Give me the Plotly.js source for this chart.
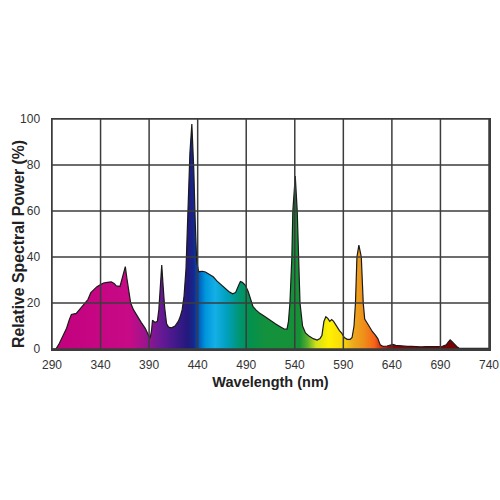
<!DOCTYPE html>
<html>
<head>
<meta charset="utf-8">
<script src="https://cdn.plot.ly/plotly-3.0.1.min.js"></script>
<style>html,body{margin:0;padding:0;background:#fff;}#chart{width:500px;height:500px;}</style>
</head>
<body>
<div id="chart"></div>
<script>
// Wavelength (nm) and relative spectral power (%)
const wavelength = [290,294,297,301,305,308,310,315,318,321,324,327,330,333,336,340,343,347,351,354,356,360,362,364,365.5,367,368.5,371,374,378,382,386,389,391,392.5,393.5,396,398.5,400,401.5,403,404.5,406,408,410,413,416.7,420,422,424,426,428,430,432,434,436,437.5,439,441,445,448,452,456,460,464,468,472,476,479,482,484,486,489,492,494,497,500,504,508,512,516,520,525,529,532,533.5,535,537,538,540.5,542.5,543.7,545.4,548,551,555,559,563,566,568,570,572,574,576,578,580,582,584,586,588.5,591,594,597,599,601,602.5,604,606,608.5,610.5,612,615,617,620,623,625.5,628,631,635,638,641,644,648,652,656,660,665,670,675,680,686,692,696,698,700,702,704,707,709,715,740];
const power = [0,0,2,5.5,9,13,15,15.5,17,18,19.5,21.5,24.5,26,27,28,28.7,29,29.2,28.5,27.5,27.2,30,33.5,35.8,31,26,20,17,14,11.5,9,6.5,4.6,8,12.5,11.5,12,17,27,36.5,27,18,11,9.5,9.2,10,12,14,17,23,35,58,85,97.8,78,55,38,33.6,33.8,33.5,32.5,31.4,29.5,28,26.5,25,24,24.5,27.5,29.3,29,27.8,25,22.7,18.4,17,15.5,14.5,13.2,12.3,11,9.7,8.7,8.6,12,20,40,60,75.2,60,40,20,10,7,5.5,4.5,3.9,4.5,6,12,14,13.3,12,12.8,12,10.5,9.5,8,6.8,5,4.2,4.2,5,10,20,40,45.2,40,20,13,11,9.5,7.5,6,4.5,1.8,1.1,1.3,1.5,2.0,1.6,1.4,1.5,1.1,1.2,1.0,0.9,1.0,0.9,1.0,1.2,1.8,3.0,4.0,3.2,2.2,1.0,0.4,0.3,0.3];

// Spectrum colours by wavelength (nm)
const colorNm = [290,370,385,400,415,430,436,441,448,458,470,482,492,510,545,553,562,575,588,600,612,622,630,640,740];
const colorVals = ['rgb(195,0,125)','rgb(200,10,135)','rgb(160,20,140)','rgb(110,25,150)','rgb(70,25,140)','rgb(35,25,125)','rgb(20,40,140)','rgb(0,90,190)','rgb(0,150,220)','rgb(20,175,230)','rgb(0,160,190)','rgb(0,150,120)','rgb(0,145,80)','rgb(20,145,60)','rgb(20,145,55)','rgb(90,175,45)','rgb(210,225,25)','rgb(255,240,0)','rgb(250,220,10)','rgb(235,170,30)','rgb(240,140,25)','rgb(245,100,25)','rgb(210,40,15)','rgb(140,5,5)','rgb(110,0,0)'];

const xTicks = [290,340,390,440,490,540,590,640,690,740];
const yTicks = [0,20,40,60,80,100];

const xMin = 290, xMax = 740, yMin = 0, yMax = 100;
const colorscale = colorNm.map((nm, i) => [(nm - xMin) / (xMax - xMin), colorVals[i]]);

const gridColor = '#3c3c3c';
const shapes = [];
xTicks.forEach(v => shapes.push({type:'line', xref:'x', yref:'y', x0:v, x1:v, y0:yMin, y1:yMax, layer:'above', line:{color:gridColor, width:1.5}}));
yTicks.forEach(v => shapes.push({type:'line', xref:'x', yref:'y', x0:xMin, x1:xMax, y0:v, y1:v, layer:'above', line:{color:gridColor, width:1.5}}));

const trace = {
  x: wavelength, y: power, type: 'scatter', mode: 'lines',
  line: {color: '#1a1a1a', width: 1.2},
  fill: 'tozeroy',
  fillgradient: {type: 'horizontal', colorscale: colorscale, start: xMin, stop: xMax},
  hoverinfo: 'skip'
};

const fam = 'Liberation Sans, Arial, sans-serif';
const layout = {
  width: 500, height: 500,
  margin: {l: 52, r: 11, t: 119, b: 151},
  paper_bgcolor: '#fff', plot_bgcolor: '#fff',
  showlegend: false,
  shapes: shapes,
  annotations: [{
    text: '<b>Relative Spectral Power (%)</b>', textangle: -90,
    xref: 'paper', yref: 'paper', x: 0, y: 0.5, xanchor: 'center', yanchor: 'middle',
    xshift: -34, yshift: -10, showarrow: false,
    font: {family: fam, size: 15.8, color: '#222'}
  }],
  xaxis: {
    range: [xMin, xMax], tickvals: xTicks, ticktext: xTicks.map(String),
    showgrid: false, zeroline: false, showline: true, mirror: true, linecolor: gridColor, linewidth: 1.5,
    ticks: '', ticklabelstandoff: 4,
    tickfont: {family: fam, size: 12, color: '#333'},
    title: {text: '<b>Wavelength (nm)</b>', font: {family: fam, size: 14.5, color: '#222'}, standoff: 6}
  },
  yaxis: {
    range: [yMin, yMax], tickvals: yTicks, ticktext: yTicks.map(String),
    showgrid: false, zeroline: false, showline: true, mirror: true, linecolor: gridColor, linewidth: 1.5,
    ticks: '', ticklabelstandoff: 8,
    tickfont: {family: fam, size: 12, color: '#333'}
  }
};

Plotly.newPlot('chart', [trace], layout, {staticPlot: true, displayModeBar: false});
</script>
</body>
</html>
